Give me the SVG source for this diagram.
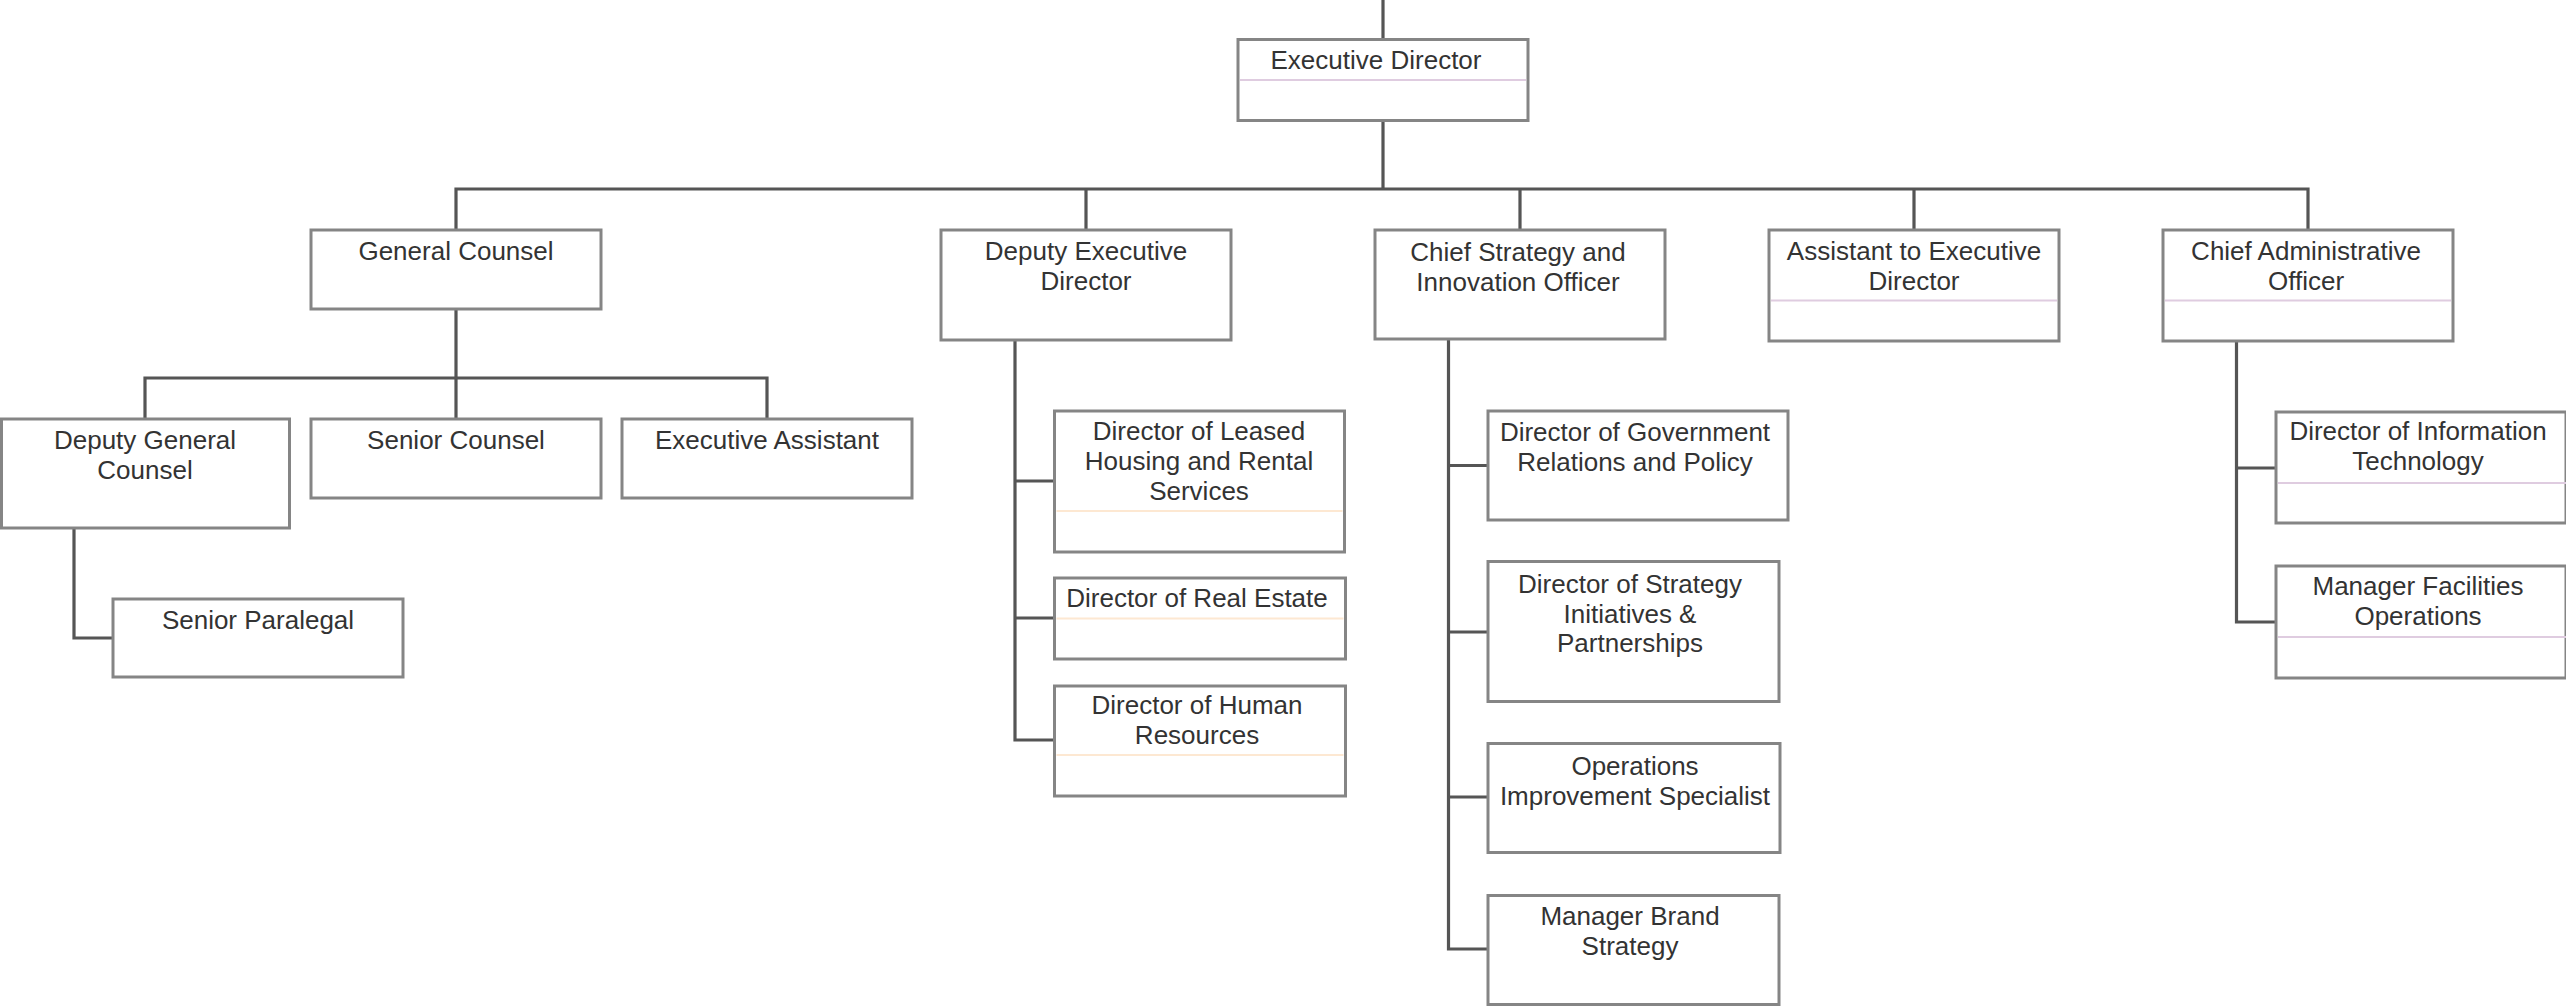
<svg xmlns="http://www.w3.org/2000/svg" width="2566" height="1006" viewBox="0 0 2566 1006">
<style>
.box{fill:#fff;stroke:#858585;stroke-width:3}
.lil{stroke:#dfcce0;stroke-width:2}
.org{stroke:#fde8d2;stroke-width:2}
.conn{fill:none;stroke:#555;stroke-width:3.2}
text{font-family:"Liberation Sans",Arial,sans-serif;font-size:26px;fill:#333;text-anchor:middle}
</style>
<rect width="2566" height="1006" fill="#fff"/>
<g id="connectors">
<path class="conn" d="M1383 0V39"/>
<path class="conn" d="M1383 120.5V189"/>
<path class="conn" d="M456 230V189H2308V230"/>
<path class="conn" d="M1086 189V230M1520 189V230M1914 189V230"/>
<path class="conn" d="M456 309V419"/>
<path class="conn" d="M145 419V378H767V419"/>
<path class="conn" d="M74 528V638H113"/>
<path class="conn" d="M1015 340V740H1054.5M1015 481H1054.5M1015 618H1054.5"/>
<path class="conn" d="M1448.5 339V949H1488M1448.5 465.5H1488M1448.5 632H1488M1448.5 797H1488"/>
<path class="conn" d="M2236.5 341V622H2276M2236.5 468H2276"/>
</g>
<g id="executive-director">
<rect class="box" x="1238" y="39.5" width="290" height="81"/>
<line class="lil" x1="1240" y1="80" x2="1526" y2="80"/>
<text x="1376" y="69">Executive Director</text>
</g>
<g id="general-counsel">
<rect class="box" x="311" y="230" width="290" height="79"/>
<text x="456" y="260">General Counsel</text>
</g>
<g id="deputy-executive-director">
<rect class="box" x="941" y="230" width="290" height="110"/>
<text x="1086" y="260">Deputy Executive</text>
<text x="1086" y="290">Director</text>
</g>
<g id="chief-strategy">
<rect class="box" x="1375" y="230" width="290" height="109"/>
<text x="1518" y="261">Chief Strategy and</text>
<text x="1518" y="291">Innovation Officer</text>
</g>
<g id="assistant-to-executive-director">
<rect class="box" x="1769" y="230" width="290" height="111"/>
<line class="lil" x1="1771" y1="300.5" x2="2057" y2="300.5"/>
<text x="1914" y="260">Assistant to Executive</text>
<text x="1914" y="290">Director</text>
</g>
<g id="chief-administrative-officer">
<rect class="box" x="2163" y="230" width="290" height="111"/>
<line class="lil" x1="2165" y1="300.5" x2="2451" y2="300.5"/>
<text x="2306" y="260">Chief Administrative</text>
<text x="2306" y="290">Officer</text>
</g>
<g id="deputy-general-counsel">
<rect class="box" x="1.5" y="419" width="288" height="109"/>
<text x="145" y="449">Deputy General</text>
<text x="145" y="479">Counsel</text>
</g>
<g id="senior-counsel">
<rect class="box" x="311" y="419" width="290" height="79"/>
<text x="456" y="449">Senior Counsel</text>
</g>
<g id="executive-assistant">
<rect class="box" x="622" y="419" width="290" height="79"/>
<text x="767" y="449">Executive Assistant</text>
</g>
<g id="senior-paralegal">
<rect class="box" x="113" y="599" width="290" height="78"/>
<text x="258" y="629">Senior Paralegal</text>
</g>
<g id="director-leased-housing">
<rect class="box" x="1054.5" y="411" width="290" height="141"/>
<line class="org" x1="1056.5" y1="511" x2="1342.5" y2="511"/>
<text x="1199" y="440">Director of Leased</text>
<text x="1199" y="470">Housing and Rental</text>
<text x="1199" y="500">Services</text>
</g>
<g id="director-real-estate">
<rect class="box" x="1054.5" y="578" width="291" height="81"/>
<line class="org" x1="1056.5" y1="618.5" x2="1343.5" y2="618.5"/>
<text x="1197" y="607">Director of Real Estate</text>
</g>
<g id="director-human-resources">
<rect class="box" x="1054.5" y="686" width="291" height="110"/>
<line class="org" x1="1056.5" y1="755" x2="1343.5" y2="755"/>
<text x="1197" y="714">Director of Human</text>
<text x="1197" y="744">Resources</text>
</g>
<g id="director-government-relations">
<rect class="box" x="1488" y="411" width="300" height="109"/>
<text x="1635" y="441">Director of Government</text>
<text x="1635" y="471">Relations and Policy</text>
</g>
<g id="director-strategy-initiatives">
<rect class="box" x="1488" y="561.5" width="291" height="140"/>
<text x="1630" y="593">Director of Strategy</text>
<text x="1630" y="623">Initiatives &amp;</text>
<text x="1630" y="652">Partnerships</text>
</g>
<g id="operations-improvement-specialist">
<rect class="box" x="1488" y="743.5" width="292" height="109"/>
<text x="1635" y="775">Operations</text>
<text x="1635" y="805">Improvement Specialist</text>
</g>
<g id="manager-brand-strategy">
<rect class="box" x="1488" y="895.5" width="291" height="109"/>
<text x="1630" y="925">Manager Brand</text>
<text x="1630" y="955">Strategy</text>
</g>
<g id="director-information-technology">
<rect class="box" x="2276" y="412" width="290" height="111"/>
<line class="lil" x1="2278" y1="483" x2="2566" y2="483"/>
<text x="2418" y="440">Director of Information</text>
<text x="2418" y="470">Technology</text>
</g>
<g id="manager-facilities-operations">
<rect class="box" x="2276" y="566" width="290" height="112"/>
<line class="lil" x1="2278" y1="637" x2="2566" y2="637"/>
<text x="2418" y="595">Manager Facilities</text>
<text x="2418" y="625">Operations</text>
</g>
</svg>
